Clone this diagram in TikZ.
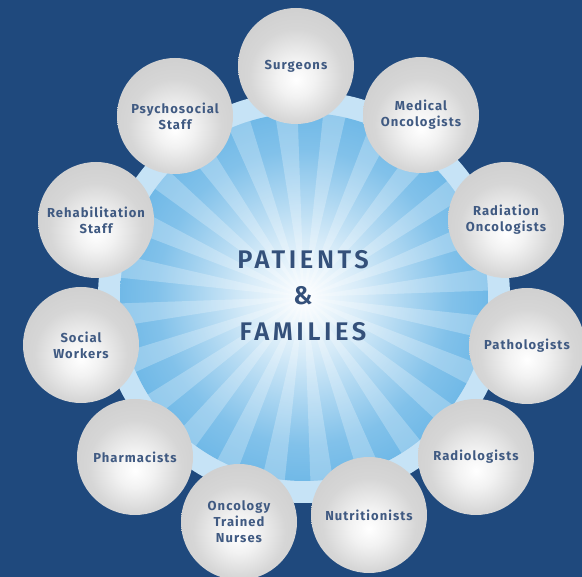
\documentclass[tikz,border=0pt]{standalone}
\usepackage{fontspec}
\setmainfont{Fira Sans}
\newfontfamily\centerfont{Fira Sans SemiBold}[LetterSpace=14]
\definecolor{bg}{HTML}{1F497D}
\definecolor{ring}{HTML}{C6E3F6}
\definecolor{sky}{HTML}{58ADE3}
\definecolor{txt}{HTML}{405A82}
\definecolor{txtc}{HTML}{34507A}
\pgfdeclareradialshading{sphere}{\pgfpoint{0bp}{-6bp}}{color(0bp)=(white); color(8bp)=(white!90!gray); color(20bp)=(gray!32); color(38bp)=(gray!42); color(50bp)=(gray!68); color(60bp)=(gray!68)}
\pgfdeclareradialshading{sun}{\pgfpoint{0bp}{0bp}}{color(0bp)=(white); color(8bp)=(white!75!sky); color(20bp)=(white!25!sky); color(32bp)=(sky); color(50bp)=(sky)}
\tikzset{
  person/.style={circle, minimum size=116pt, inner sep=0pt, shading=sphere, shade,
    font=\bfseries\fontsize{13}{16}\selectfont\addfontfeatures{LetterSpace=8}, text=txt, align=center},
  center label/.style={font=\centerfont\fontsize{25.5}{36}\selectfont, text=txtc, align=center},
  ray/.style={white, opacity=0.25}
}
\begin{document}
\begin{tikzpicture}[x=1pt,y=-1pt]
\useasboundingbox (0,0) rectangle (582,577);
\clip (0,0) rectangle (582,577);
\fill[bg] (0,0) rectangle (582,577);
% central disc
\coordinate (c) at (304,297);
\fill[ring] (c) circle (206pt);
\shade[shading=sun] (c) circle (184pt);
\begin{scope}
  \clip (c) circle (184pt);
  \foreach \a in {2,17,...,347}
    \fill[ray] (c) -- +(\a:270pt) -- +(\a+7:270pt) -- cycle;
\end{scope}
\node[center label] (pf) at (303,296) {PATIENTS\\\&\\FAMILIES};
% surrounding team
\node[person] (surg) at (296,66) {Surgeons};
\node[person] (med)  at (421,115) {Medical\\Oncologists};
\node[person] (rad)  at (506,220) {Radiation\\Oncologists};
\node[person] (path) at (527,346) {Pathologists};
\node[person] (radl) at (476,457) {Radiologists};
\node[person] (nutr) at (369,515) {Nutritionists};
\node[person] (nurs) at (239,522) {Oncology\\Trained\\Nurses};
\node[person] (phar) at (135,457) {Pharmacists};
\node[person] (soc)  at (81,345) {Social\\Workers};
\node[person] (rehab) at (96,220) {Rehabilitation\\Staff};
\node[person] (psy)  at (175,116) {Psychosocial\\Staff};
\end{tikzpicture}
\end{document}
